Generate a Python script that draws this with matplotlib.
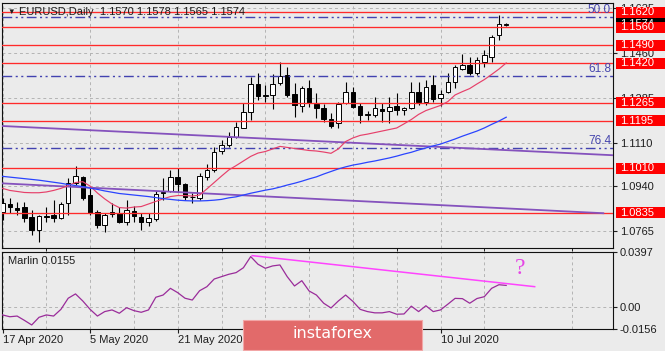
import numpy as np
import matplotlib
matplotlib.use('Agg')
import matplotlib.pyplot as plt
from matplotlib.patches import Rectangle
from matplotlib.transforms import blended_transform_factory

plt.rcParams['font.family'] = ['Liberation Sans', 'DejaVu Sans']
plt.rcParams['font.size'] = 8

# EURUSD daily, 17 Apr 2020 .. 23 Jul 2020 (one bar per weekday)
opens = [1.0840, 1.0870, 1.0855, 1.0858, 1.0820, 1.0768, 1.0824, 1.0827, 1.0815, 1.0874,
         1.0952, 1.0975, 1.0905, 1.0839, 1.0788, 1.0839, 1.0835, 1.0800, 1.0843, 1.0820,
         1.0800, 1.0811, 1.0913, 1.0921, 1.0975, 1.0948, 1.0897, 1.0893, 1.0975, 1.1003,
         1.1077, 1.1100, 1.1132, 1.1167, 1.1229, 1.1339, 1.1292, 1.1296, 1.1341, 1.1374,
         1.1300, 1.1253, 1.1323, 1.1261, 1.1245, 1.1202, 1.1186, 1.1264, 1.1307, 1.1253,
         1.1218, 1.1218, 1.1241, 1.1233, 1.1253, 1.1237, 1.1245, 1.1307, 1.1268, 1.1335,
         1.1284, 1.1307, 1.1347, 1.1397, 1.1413, 1.1382, 1.1425, 1.1444, 1.1530, 1.1570]
highs = [1.0893, 1.0893, 1.0878, 1.0878, 1.0847, 1.0827, 1.0858, 1.0886, 1.0878, 1.0972,
         1.1018, 1.0980, 1.0932, 1.0847, 1.0835, 1.0874, 1.0858, 1.0886, 1.0862, 1.0835,
         1.0835, 1.0920, 1.0970, 1.1003, 1.1010, 1.0952, 1.0913, 1.0991, 1.1026, 1.1093,
         1.1120, 1.1151, 1.1190, 1.1264, 1.1366, 1.1382, 1.1335, 1.1378, 1.1425, 1.1405,
         1.1343, 1.1331, 1.1354, 1.1304, 1.1261, 1.1226, 1.1269, 1.1347, 1.1327, 1.1264,
         1.1233, 1.1288, 1.1265, 1.1288, 1.1304, 1.1249, 1.1347, 1.1347, 1.1354, 1.1374,
         1.1315, 1.1382, 1.1413, 1.1456, 1.1444, 1.1444, 1.1472, 1.1530, 1.1608, 1.1578]
lows = [1.0807, 1.0835, 1.0827, 1.0800, 1.0749, 1.0722, 1.0800, 1.0800, 1.0812, 1.0827,
        1.0944, 1.0886, 1.0827, 1.0776, 1.0761, 1.0820, 1.0796, 1.0788, 1.0800, 1.0768,
        1.0784, 1.0805, 1.0886, 1.0917, 1.0917, 1.0886, 1.0874, 1.0886, 1.0964, 1.0995,
        1.1065, 1.1093, 1.1128, 1.1167, 1.1198, 1.1276, 1.1268, 1.1241, 1.1335, 1.1288,
        1.1210, 1.1229, 1.1249, 1.1206, 1.1190, 1.1167, 1.1167, 1.1261, 1.1245, 1.1186,
        1.1198, 1.1210, 1.1190, 1.1186, 1.1218, 1.1218, 1.1241, 1.1257, 1.1257, 1.1268,
        1.1253, 1.1304, 1.1323, 1.1393, 1.1374, 1.1374, 1.1405, 1.1425, 1.1511, 1.1565]
closes = [1.0874, 1.0858, 1.0847, 1.0815, 1.0768, 1.0823, 1.0820, 1.0815, 1.0870, 1.0952,
          1.0979, 1.0893, 1.0835, 1.0788, 1.0827, 1.0831, 1.0800, 1.0847, 1.0823, 1.0800,
          1.0815, 1.0909, 1.0917, 1.0975, 1.0948, 1.0897, 1.0899, 1.0979, 1.1003, 1.1073,
          1.1100, 1.1132, 1.1171, 1.1229, 1.1339, 1.1292, 1.1295, 1.1339, 1.1371, 1.1296,
          1.1257, 1.1323, 1.1264, 1.1245, 1.1202, 1.1175, 1.1261, 1.1307, 1.1249, 1.1218,
          1.1220, 1.1245, 1.1233, 1.1249, 1.1237, 1.1245, 1.1307, 1.1268, 1.1327, 1.1280,
          1.1300, 1.1347, 1.1405, 1.1413, 1.1382, 1.1432, 1.1452, 1.1522, 1.1573, 1.1574]

# fast (red) and slow (blue) moving averages
ma_fast = [1.0931, 1.0923, 1.0919, 1.0915, 1.0914, 1.0914, 1.0917, 1.0923, 1.0931, 1.0942,
           1.0954, 1.0957, 1.0940, 1.0913, 1.0890, 1.0870, 1.0856, 1.0854, 1.0858, 1.0860,
           1.0870, 1.0880, 1.0890, 1.0899, 1.0903, 1.0903, 1.0901, 1.0905, 1.0929, 1.0954,
           1.0979, 1.1003, 1.1020, 1.1038, 1.1056, 1.1069, 1.1075, 1.1085, 1.1095, 1.1091,
           1.1087, 1.1083, 1.1079, 1.1077, 1.1073, 1.1068, 1.1085, 1.1114, 1.1128, 1.1138,
           1.1143, 1.1149, 1.1155, 1.1161, 1.1167, 1.1183, 1.1200, 1.1220, 1.1235, 1.1245,
           1.1255, 1.1270, 1.1296, 1.1309, 1.1321, 1.1339, 1.1356, 1.1376, 1.1397, 1.1421]
ma_slow = [1.0978, 1.0975, 1.0972, 1.0969, 1.0966, 1.0963, 1.0959, 1.0955, 1.0951, 1.0946,
           1.0942, 1.0938, 1.0932, 1.0927, 1.0921, 1.0916, 1.0911, 1.0908, 1.0905, 1.0902,
           1.0899, 1.0895, 1.0891, 1.0888, 1.0885, 1.0883, 1.0882, 1.0882, 1.0883, 1.0885,
           1.0888, 1.0894, 1.0898, 1.0905, 1.0912, 1.0918, 1.0924, 1.0929, 1.0936, 1.0944,
           1.0951, 1.0959, 1.0968, 1.0976, 1.0987, 1.0997, 1.1007, 1.1015, 1.1022, 1.1027,
           1.1033, 1.1038, 1.1044, 1.1050, 1.1057, 1.1065, 1.1072, 1.1081, 1.1089, 1.1097,
           1.1104, 1.1114, 1.1124, 1.1135, 1.1145, 1.1155, 1.1167, 1.1181, 1.1194, 1.1209]

marlin = [-0.0055, -0.0068, -0.0063, -0.0094, -0.0127, -0.0072, -0.0055, -0.0063, -0.0015, 0.0065,
          0.0096, 0.0045, -0.0015, -0.0063, -0.0031, -0.0019, -0.0043, -0.0003, -0.0024, -0.0036,
          -0.0019, 0.0072, 0.0088, 0.0136, 0.0105, 0.0065, 0.0052, 0.0119, 0.0148, 0.0203,
          0.0220, 0.0237, 0.0249, 0.0284, 0.0364, 0.0309, 0.0280, 0.0297, 0.0304, 0.0220,
          0.0153, 0.0191, 0.0117, 0.0088, 0.0029, -0.0005, 0.0045, 0.0088, 0.0042, -0.0015,
          -0.0031, -0.0040, -0.0040, -0.0031, -0.0050, -0.0048, 0.0008, -0.0031, 0.0011, -0.0031,
          -0.0019, 0.0022, 0.0064, 0.0062, 0.0029, 0.0063, 0.0076, 0.0136, 0.0162, 0.0157]

red_levels = [1.1620, 1.1560, 1.1490, 1.1420, 1.1265, 1.1195, 1.1010, 1.0835]
fib_levels = [1.1602, 1.1370, 1.1090]
fib_names = ['50.0', '61.8', '76.4']
trend1 = ([-1, 84], [1.1176, 1.1060])
trend2 = ([-1, 82.3], [1.0952, 1.0834])
marlin_trend = ([34.2, 72.9], [0.0371, 0.0148])

price_ticks = [1.1635, 1.1460, 1.1285, 1.1110, 1.0940, 1.0765]
date_ticks = [0, 12, 24, 36, 48, 60]
date_labels = ['17 Apr 2020', '5 May 2020', '21 May 2020', '8 Jun 2020', '24 Jun 2020', '10 Jul 2020']
last_price = 1.1574

BG = '#ebebeb'
W, H = 665, 351

def px_box(x0, y0, x1, y1):
    return [x0 / W, 1 - y1 / H, (x1 - x0) / W, (y1 - y0) / H]

fig = plt.figure(figsize=(W / 100, H / 100), dpi=100, facecolor=BG)
ax = fig.add_axes(px_box(2, 3, 613, 248), facecolor=BG)
ax2 = fig.add_axes(px_box(2, 252, 613, 329), facecolor=BG, sharex=ax)

x = np.arange(len(closes))
o, h, l, c = map(np.array, (opens, highs, lows, closes))

grid_kw = dict(color='#b4b4b4', linestyle=(0, (3, 3)), linewidth=0.7)

# ---- main panel
ax.vlines(x, l, h, color='black', linewidth=0.8, zorder=3)
up = c >= o
body = np.maximum(np.abs(c - o), 0.00006)
ax.bar(x[up], body[up], bottom=np.minimum(o, c)[up], width=0.62,
       color='white', edgecolor='black', linewidth=0.7, zorder=4)
ax.bar(x[~up], body[~up], bottom=np.minimum(o, c)[~up], width=0.62,
       color='black', edgecolor='black', linewidth=0.7, zorder=4)

for lv in red_levels:
    ax.axhline(lv, color='#ff2a2a', linewidth=0.95, zorder=5)
for lv in fib_levels:
    ax.axhline(lv, color='#4242b0', linewidth=1.0, dashes=(7, 2.5, 1.5, 2.5, 1.5, 2.5), zorder=5)

ax.plot(*trend1, color='#8552bd', linewidth=1.3, zorder=5)
ax.plot(*trend2, color='#8552bd', linewidth=1.3, zorder=5)
ax.plot(x, ma_fast, color='#e6406a', linewidth=0.85, zorder=6)
ax.plot(x, ma_slow, color='#2a44ff', linewidth=0.9, zorder=6)

ax.set_xlim(-0.07, 83.63)
ax.set_ylim(1.06981, 1.16552)
ax.set_xticks(np.arange(0, 84, 6))
ax.set_yticks(price_ticks)
ax.set_yticklabels([f'{t:.4f}' for t in price_ticks])
ax.yaxis.tick_right()
ax.tick_params(axis='y', length=3, width=0.8, pad=2, labelsize=8, colors='#1e1e1e')
ax.tick_params(axis='x', length=0, labelbottom=False)
ax.grid(True, **grid_kw)
ax.set_axisbelow(True)

trans = blended_transform_factory(fig.transFigure, ax.transData)
for lv, name in zip(fib_levels, fib_names):
    fig.text(611 / W, lv + 0.0002, name, transform=trans, ha='right', va='bottom',
             color='#4646ae', fontsize=8.5)

# price boxes on the right axis
box_h = 11 / 2560
fig.add_artist(Rectangle((616 / W, last_price - box_h / 2), 50 / W, box_h,
                         transform=trans, facecolor='black', edgecolor='none', zorder=5))
fig.text(620 / W, last_price, f'{last_price:.4f}', transform=trans, va='center',
         color='white', fontsize=8, zorder=6)
for lv in red_levels:
    fig.add_artist(Rectangle((616 / W, lv - box_h / 2), 50 / W, box_h,
                             transform=trans, facecolor='#ff0000', edgecolor='none', zorder=7))
    fig.text(620 / W, lv, f'{lv:.4f}', transform=trans, va='center',
             color='white', fontsize=8, zorder=8)

fig.text(7 / W, 1 - 12 / H, '\u25bc', va='center', fontsize=5.5, color='#1e1e1e')
fig.text(19 / W, 1 - 12 / H, 'EURUSD,Daily  1.1570 1.1578 1.1565 1.1574',
         va='center', fontsize=8, color='#1e1e1e')

# ---- Marlin panel
ax2.plot(x, marlin, color='#9a2c9a', linewidth=0.9, zorder=4)
ax2.plot(*marlin_trend, color='#ff44ff', linewidth=1.1, zorder=5)
ax2.set_ylim(-0.0156, 0.0397)
ax2.set_yticks([0.0397, 0.0, -0.0156])
ax2.set_yticklabels(['0.0397', '0.00', '-0.0156'])
ylabs = ax2.get_yticklabels()
ylabs[0].set_va('top')
ylabs[2].set_va('bottom')
ax2.yaxis.tick_right()
ax2.tick_params(axis='y', length=3, width=0.8, pad=2, labelsize=8, colors='#1e1e1e')
ax2.set_xticks(date_ticks)
ax2.set_xticklabels(date_labels)
ax2.set_xticks(np.arange(6, 84, 12), minor=True)
for lb in ax2.get_xticklabels():
    lb.set_ha('left')
ax2.tick_params(axis='x', which='major', length=3, width=0.8, pad=1.5, labelsize=8, colors='#1e1e1e')
ax2.tick_params(axis='x', which='minor', length=0)
ax2.grid(True, which='both', **grid_kw)
ax2.set_axisbelow(True)
ax2.text(6 / 611, 1 - 9 / 77, 'Marlin 0.0155', transform=ax2.transAxes, va='center',
         fontsize=8, color='#1e1e1e')
fig.text(520 / W, 1 - 268 / H, '?', ha='center', va='center', fontsize=17,
         family='Liberation Serif', color='#e545e5')

for a in (ax, ax2):
    for s in a.spines.values():
        s.set_color('#101010')
        s.set_linewidth(0.8)

# watermark
fig.add_artist(Rectangle((243 / W, 1 / H), 179 / W, 30 / H, transform=fig.transFigure,
                         facecolor='#e26a6a', edgecolor='#f2a6a6', linewidth=0.8, zorder=10))
fig.text(332 / W, 1 - 334 / H, 'instaforex', ha='center', va='center', fontsize=11.5,
         color='white', zorder=11, family=['DejaVu Sans'])

fig.savefig('out.png', dpi=100, facecolor=BG)
